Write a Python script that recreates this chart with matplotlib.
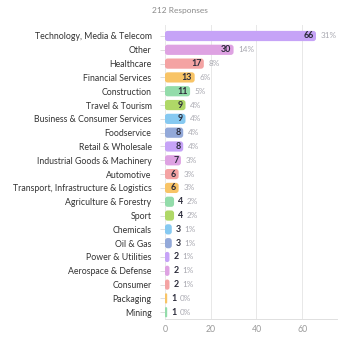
import matplotlib.pyplot as plt
from matplotlib.patches import FancyBboxPatch

# responses per industry
industries = [
    "Technology, Media & Telecom", "Other", "Healthcare", "Financial Services",
    "Construction", "Travel & Tourism", "Business & Consumer Services",
    "Foodservice", "Retail & Wholesale", "Industrial Goods & Machinery",
    "Automotive", "Transport, Infrastructure & Logistics",
    "Agriculture & Forestry", "Sport", "Chemicals", "Oil & Gas",
    "Power & Utilities", "Aerospace & Defense", "Consumer", "Packaging", "Mining",
]
counts = [66, 30, 17, 13, 11, 9, 9, 8, 8, 7, 6, 6, 4, 4, 3, 3, 2, 2, 2, 1, 1]
x_ticks = [0, 20, 40, 60]
palette = ["#c6a3f7", "#dea2e2", "#f4a3a3", "#f8c466",
           "#93dcaa", "#afd867", "#86c9f1", "#93a9d9"]

total = sum(counts)
plt.rcParams["font.family"] = ["Lato", "DejaVu Sans"]

fig = plt.figure(figsize=(3.4, 3.37), dpi=100)
ax = fig.add_axes([0.485, 0.053, 0.505, 0.873])

xmin, xmax = 0, 75
ax.set_xlim(xmin, xmax)
ax.set_ylim(20.5, -0.8)

# rounded bar corners: keep the radius equal in both directions
px_per_x = 0.505 * 340 / (xmax - xmin)
px_per_y = 0.873 * 337 / 21.3
radius = 2.8 / px_per_x
aspect = px_per_x / px_per_y
bar_h = 0.74

for i, (name, v) in enumerate(zip(industries, counts)):
    r = min(radius, v / 2)
    patch = FancyBboxPatch((0, i - bar_h / 2), v, bar_h,
                           boxstyle=f"round,pad=0,rounding_size={r}",
                           mutation_aspect=aspect,
                           facecolor=palette[i % len(palette)],
                           edgecolor="none", zorder=3)
    ax.add_patch(patch)

    pct = f"{round(100 * v / total)}%"
    if v >= 5:
        ax.annotate(str(v), (v, i), xytext=(-1.8, 0), textcoords="offset points",
                    ha="right", va="center", fontsize=6.4, fontweight="bold",
                    color="#2b2b3a", zorder=4)
        ax.annotate(pct, (v, i), xytext=(3.4, 0), textcoords="offset points",
                    ha="left", va="center", fontsize=5.9, color="#a8a8b0", zorder=4)
    else:
        ax.annotate(str(v), (v, i), xytext=(3.0, 0), textcoords="offset points",
                    ha="left", va="center", fontsize=6.4, fontweight="bold",
                    color="#2b2b3a", zorder=4)
        ax.annotate(pct, (v, i), xytext=(9.0, 0), textcoords="offset points",
                    ha="left", va="center", fontsize=5.9, color="#a8a8b0", zorder=4)

ax.set_yticks(range(len(industries)))
ax.set_yticklabels(industries, fontsize=6.3, color="#333333")
ax.tick_params(axis="y", length=3.6, width=0.6, color="#d8d8d8", pad=6)

ax.set_xticks(x_ticks)
ax.set_xticklabels([str(t) for t in x_ticks], fontsize=6.3, color="#9a9a9a")
ax.tick_params(axis="x", length=0, pad=4)

ax.grid(axis="x", color="#e8e8e8", linewidth=0.7, zorder=0)
for side in ["top", "right", "left"]:
    ax.spines[side].set_visible(False)
ax.spines["bottom"].set_color("#e0e0e0")
ax.spines["bottom"].set_linewidth(0.7)

fig.text(0.53, 0.97, f"{total} Responses", ha="center", va="center",
         fontsize=6.0, color="#8a8a8a")

fig.savefig("out.png", dpi=100, facecolor="white")
